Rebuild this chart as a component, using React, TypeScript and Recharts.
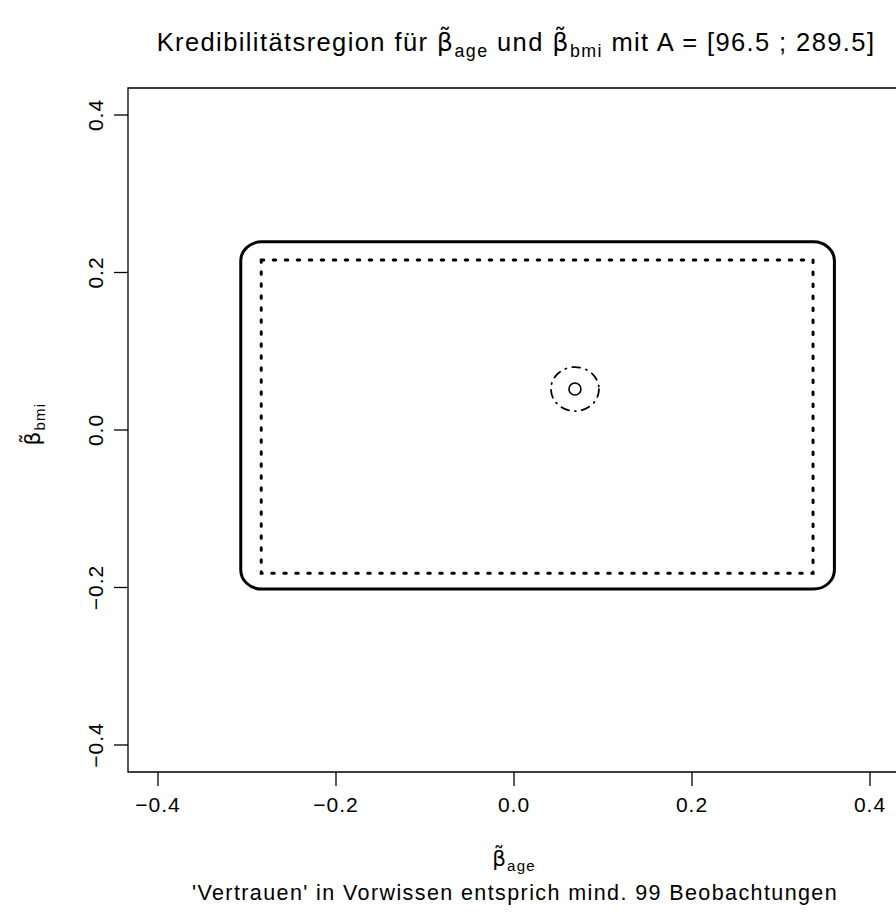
import { ComposedChart, XAxis, YAxis, Scatter, ReferenceArea } from 'recharts';

// axis ranges and ticks (R base plot, 4% padding)
const xDomain = [-0.4337, 0.4337];
const yDomain = [-0.4343, 0.4343];
const xTicks = [-0.4, -0.2, 0, 0.2, 0.4];
const yTicks = [-0.4, -0.2, 0, 0.2, 0.4];

// credibility regions
const outerX = [-0.307, 0.36];
const outerY = [-0.202, 0.239];
const innerX = [-0.284, 0.336];
const innerY = [-0.182, 0.216];
const centre = [{ x: 0.0685, y: 0.052 }];

const FONT = '"Liberation Sans", Arial, Helvetica, sans-serif';

const fmt = (v: number) => v.toFixed(1).replace('-', '\u2212');

const XTick = ({ x, y, payload }: any) => (
    <text x={x} y={y} dy="0.71em" textAnchor="middle" fontSize={21} letterSpacing={1}
        fontFamily={FONT} fill="#000">
        {fmt(payload.value)}
    </text>
);

const YTick = ({ x, y, payload }: any) => (
    <text
        x={x}
        y={y}
        textAnchor="middle"
        transform={`rotate(-90 ${x} ${y})`}
        fontSize={21}
        letterSpacing={1}
        fontFamily={FONT}
        fill="#000"
    >
        {fmt(payload.value)}
    </text>
);

const SmallCircle = ({ cx, cy }: any) => (
    <g>
        <ellipse cx={cx} cy={cy} rx={24} ry={22} fill="none" stroke="#000" strokeWidth={1.8}
            strokeDasharray="8 6 1 6" strokeLinecap="round" />
        <circle cx={cx} cy={cy} r={6} fill="none" stroke="#000" strokeWidth={1.6} />
    </g>
);

const RoundRect = (p: any) => (
    <rect x={p.x} y={p.y} width={p.width} height={p.height} rx={21} ry={19}
        fill="none" stroke="#000" strokeWidth={3} />
);

const Beta = ({ sub, size }: { sub: string; size: number }) => (
    <>
        <tspan fontFamily='"DejaVu Sans", sans-serif'>β̃</tspan>
        <tspan fontSize={size * 0.7} dy={size * 0.25}>{sub}</tspan>
        <tspan dy={-size * 0.25}>{'\u200b'}</tspan>
    </>
);

export default function App() {
    return (
        <div style={{ position: 'absolute', left: 0, top: 0, width: 896, height: 921, overflow: 'hidden', background: '#fff' }}>
            <ComposedChart width={910} height={921} margin={{ top: 88, right: 10, left: 68, bottom: 89 }}>
                <XAxis
                    type="number"
                    dataKey="x"
                    domain={xDomain}
                    ticks={xTicks}
                    allowDataOverflow
                    axisLine={false}
                    tickLine={{ stroke: '#000', strokeWidth: 1.3 }}
                    tickSize={14}
                    tickMargin={11}
                    height={60}
                    tick={<XTick />}
                />
                <YAxis
                    type="number"
                    dataKey="y"
                    domain={yDomain}
                    ticks={yTicks}
                    allowDataOverflow
                    axisLine={false}
                    tickLine={{ stroke: '#000', strokeWidth: 1.3 }}
                    tickSize={14}
                    tickMargin={11}
                    width={60}
                    tick={<YTick />}
                />
                <ReferenceArea x1={xDomain[0]} x2={xDomain[1]} y1={yDomain[0]} y2={yDomain[1]}
                    fill="none" fillOpacity={0} stroke="#000" strokeWidth={1.3} ifOverflow="visible" />
                <ReferenceArea x1={outerX[0]} x2={outerX[1]} y1={outerY[0]} y2={outerY[1]}
                    shape={<RoundRect />} />
                <ReferenceArea x1={innerX[0]} x2={innerX[1]} y1={innerY[0]} y2={innerY[1]}
                    fill="none" fillOpacity={0} stroke="#000" strokeWidth={3}
                    strokeDasharray="2.5 9.5" strokeLinecap="round" />
                <Scatter data={centre} isAnimationActive={false} shape={<SmallCircle />} />
            </ComposedChart>
            <svg width={896} height={921} style={{ position: 'absolute', left: 0, top: 0, pointerEvents: 'none' }}
                fontFamily={FONT} fill="#000">
                <text x={516} y={51} textAnchor="middle" fontSize={25.5} letterSpacing={1.4}>
                    Kredibilitätsregion für <Beta sub="age" size={25.5} /> und <Beta sub="bmi" size={25.5} /> mit A = [96.5 ; 289.5]
                </text>
                <text x={514} y={866} textAnchor="middle" fontSize={21.5} letterSpacing={1.2}>
                    <Beta sub="age" size={21.5} />
                </text>
                <text x={515} y={900} textAnchor="middle" fontSize={21.5} letterSpacing={1.4}>
                    'Vertrauen' in Vorwissen entsprich mind. 99 Beobachtungen
                </text>
                <text x={40} y={424} textAnchor="middle" fontSize={21.5} letterSpacing={1.2}
                    transform="rotate(-90 40 424)">
                    <Beta sub="bmi" size={21.5} />
                </text>
            </svg>
        </div>
    );
}
